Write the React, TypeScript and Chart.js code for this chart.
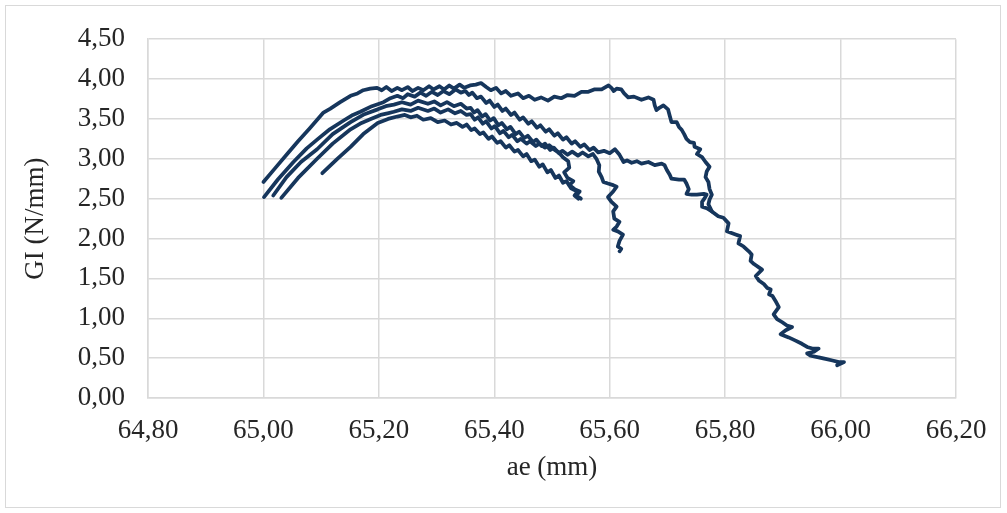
import React, { useEffect, useRef } from "react";
import { Chart, registerables } from "chart.js";

Chart.register(...registerables);

const xMin = 64.8;
const xMax = 66.2;
const xStep = 0.2;
const yMin = 0;
const yMax = 4.5;
const yStep = 0.5;
const xTitle = "ae (mm)";
const yTitle = "GI (N/mm)";

// Five specimens: [ae (mm), GI (N/mm)]
const specimenA: [number, number][] = [
  [65.0, 2.71], [65.02, 2.88], [65.04, 3.05], [65.06, 3.22], [65.08, 3.38], [65.104, 3.58],
  [65.116, 3.63], [65.133, 3.71], [65.151, 3.79], [65.163, 3.82], [65.173, 3.86], [65.185, 3.88],
  [65.197, 3.89], [65.205, 3.86], [65.213, 3.9], [65.222, 3.85], [65.232, 3.89], [65.24, 3.86],
  [65.25, 3.9], [65.258, 3.85], [65.268, 3.89], [65.277, 3.86], [65.287, 3.91], [65.295, 3.87],
  [65.305, 3.91], [65.313, 3.87], [65.322, 3.92], [65.33, 3.88], [65.34, 3.93], [65.348, 3.89],
  [65.358, 3.92], [65.368, 3.93], [65.377, 3.95], [65.386, 3.9], [65.394, 3.86], [65.403, 3.89],
  [65.412, 3.82], [65.42, 3.85], [65.429, 3.79], [65.441, 3.82], [65.45, 3.76], [65.46, 3.79],
  [65.47, 3.74], [65.481, 3.77], [65.493, 3.73], [65.504, 3.78], [65.516, 3.76], [65.527, 3.8],
  [65.539, 3.79], [65.551, 3.84], [65.563, 3.84], [65.573, 3.87], [65.586, 3.87], [65.598, 3.92],
  [65.603, 3.89], [65.607, 3.85], [65.612, 3.88], [65.62, 3.87], [65.625, 3.82], [65.632, 3.77],
  [65.642, 3.78], [65.655, 3.74], [65.667, 3.77], [65.676, 3.74], [65.678, 3.67], [65.681, 3.61],
  [65.686, 3.64], [65.693, 3.67], [65.701, 3.62], [65.704, 3.54], [65.707, 3.46], [65.716, 3.46],
  [65.72, 3.4], [65.725, 3.36], [65.729, 3.31], [65.733, 3.25], [65.739, 3.21], [65.746, 3.2],
  [65.747, 3.15], [65.757, 3.12], [65.751, 3.06], [65.76, 3.02], [65.766, 2.96], [65.773, 2.9],
  [65.768, 2.84], [65.766, 2.77], [65.771, 2.71], [65.773, 2.62], [65.777, 2.55], [65.773, 2.49],
  [65.771, 2.43], [65.777, 2.34], [65.788, 2.28], [65.797, 2.26], [65.806, 2.19], [65.803, 2.09],
  [65.818, 2.05], [65.826, 2.03], [65.823, 1.94], [65.832, 1.9], [65.841, 1.84], [65.846, 1.8],
  [65.844, 1.72], [65.85, 1.68], [65.864, 1.61], [65.853, 1.53], [65.859, 1.47], [65.867, 1.43],
  [65.873, 1.38], [65.879, 1.36], [65.876, 1.3], [65.882, 1.28], [65.887, 1.22], [65.893, 1.14],
  [65.884, 1.05], [65.89, 0.99], [65.899, 0.95], [65.907, 0.91], [65.916, 0.89], [65.905, 0.85],
  [65.896, 0.8], [65.91, 0.76], [65.922, 0.72], [65.933, 0.68], [65.942, 0.64], [65.951, 0.62],
  [65.962, 0.62], [65.954, 0.58], [65.942, 0.56], [65.948, 0.53], [65.962, 0.51], [65.974, 0.49],
  [65.986, 0.47], [65.997, 0.45], [66.006, 0.45], [65.994, 0.41],
];

const specimenB: [number, number][] = [
  [65.001, 2.52], [65.025, 2.74], [65.052, 2.96], [65.075, 3.13], [65.093, 3.24], [65.115, 3.37],
  [65.139, 3.48], [65.155, 3.55], [65.168, 3.59], [65.188, 3.66], [65.208, 3.71], [65.22, 3.76],
  [65.232, 3.79], [65.242, 3.76], [65.25, 3.81], [65.262, 3.78], [65.272, 3.83], [65.282, 3.79],
  [65.292, 3.84], [65.302, 3.8], [65.312, 3.85], [65.322, 3.81], [65.333, 3.87], [65.342, 3.83],
  [65.35, 3.85], [65.356, 3.8], [65.362, 3.83], [65.37, 3.76], [65.377, 3.78], [65.386, 3.7],
  [65.392, 3.73], [65.4, 3.65], [65.406, 3.68], [65.414, 3.6], [65.42, 3.63], [65.429, 3.55],
  [65.435, 3.58], [65.444, 3.49], [65.45, 3.52], [65.459, 3.44], [65.465, 3.47], [65.474, 3.39],
  [65.48, 3.42], [65.489, 3.34], [65.495, 3.37], [65.504, 3.29], [65.51, 3.32], [65.519, 3.24],
  [65.525, 3.27], [65.534, 3.19], [65.54, 3.22], [65.549, 3.15], [65.556, 3.18], [65.565, 3.11],
  [65.572, 3.14], [65.58, 3.08], [65.59, 3.1], [65.6, 3.07], [65.609, 3.12], [65.617, 3.05],
  [65.624, 2.96], [65.63, 2.98], [65.638, 2.95], [65.647, 2.97], [65.655, 2.94], [65.667, 2.96],
  [65.678, 2.92], [65.69, 2.94], [65.695, 2.92], [65.699, 2.86], [65.704, 2.8], [65.707, 2.75],
  [65.72, 2.74], [65.729, 2.74], [65.733, 2.69], [65.737, 2.62], [65.733, 2.56], [65.742, 2.55],
  [65.751, 2.55], [65.763, 2.56], [65.768, 2.55], [65.764, 2.5], [65.76, 2.46], [65.76, 2.4],
  [65.768, 2.38], [65.777, 2.34],
];

const specimenC: [number, number][] = [
  [65.017, 2.54], [65.04, 2.77], [65.065, 2.96], [65.093, 3.12], [65.12, 3.31], [65.151, 3.46],
  [65.175, 3.56], [65.198, 3.62], [65.212, 3.66], [65.226, 3.68], [65.24, 3.71], [65.255, 3.68],
  [65.268, 3.73], [65.285, 3.69], [65.296, 3.72], [65.307, 3.67], [65.318, 3.71], [65.33, 3.66],
  [65.342, 3.69], [65.352, 3.63], [65.359, 3.64], [65.365, 3.58], [65.371, 3.61], [65.379, 3.53],
  [65.385, 3.56], [65.393, 3.48], [65.399, 3.51], [65.407, 3.42], [65.413, 3.45], [65.422, 3.37],
  [65.428, 3.4], [65.437, 3.31], [65.443, 3.34], [65.452, 3.26], [65.458, 3.29], [65.467, 3.21],
  [65.473, 3.24], [65.482, 3.16], [65.488, 3.19], [65.497, 3.11], [65.503, 3.14], [65.512, 3.07],
  [65.518, 3.1], [65.527, 3.05], [65.535, 3.09], [65.545, 3.04], [65.553, 3.08], [65.563, 3.03],
  [65.571, 3.06], [65.577, 3.0], [65.582, 2.92], [65.581, 2.84], [65.586, 2.77], [65.589, 2.71],
  [65.597, 2.69], [65.606, 2.67], [65.612, 2.65], [65.606, 2.59], [65.597, 2.52], [65.603, 2.46],
  [65.612, 2.4], [65.606, 2.34], [65.608, 2.25], [65.617, 2.21], [65.612, 2.15], [65.606, 2.11],
  [65.614, 2.09], [65.623, 2.05], [65.617, 1.97], [65.614, 1.9], [65.62, 1.87], [65.617, 1.84],
];

const specimenD: [number, number][] = [
  [65.031, 2.51], [65.06, 2.76], [65.093, 3.0], [65.12, 3.19], [65.151, 3.37], [65.17, 3.45],
  [65.186, 3.5], [65.203, 3.55], [65.215, 3.57], [65.226, 3.59], [65.24, 3.62], [65.255, 3.6],
  [65.268, 3.64], [65.285, 3.6], [65.296, 3.63], [65.307, 3.58], [65.32, 3.62], [65.332, 3.57],
  [65.342, 3.6], [65.352, 3.55], [65.359, 3.56], [65.366, 3.49], [65.372, 3.52], [65.38, 3.44],
  [65.386, 3.47], [65.395, 3.38], [65.401, 3.41], [65.41, 3.32], [65.416, 3.35], [65.425, 3.27],
  [65.431, 3.3], [65.44, 3.22], [65.446, 3.25], [65.456, 3.19], [65.462, 3.22], [65.472, 3.16],
  [65.478, 3.19], [65.488, 3.14], [65.495, 3.17], [65.505, 3.11], [65.512, 3.08], [65.519, 3.02],
  [65.528, 2.97], [65.53, 2.89], [65.521, 2.83], [65.527, 2.76], [65.537, 2.72], [65.53, 2.67],
  [65.539, 2.62], [65.548, 2.59], [65.542, 2.54], [65.55, 2.5],
];

const specimenE: [number, number][] = [
  [65.102, 2.82], [65.128, 3.0], [65.151, 3.15], [65.173, 3.31], [65.198, 3.45], [65.216, 3.5],
  [65.232, 3.53], [65.245, 3.55], [65.255, 3.52], [65.266, 3.54], [65.277, 3.49], [65.29, 3.51],
  [65.302, 3.46], [65.314, 3.48], [65.325, 3.43], [65.335, 3.45], [65.345, 3.4], [65.352, 3.43],
  [65.36, 3.36], [65.366, 3.38], [65.375, 3.31], [65.381, 3.33], [65.39, 3.25], [65.396, 3.28],
  [65.405, 3.2], [65.411, 3.22], [65.42, 3.14], [65.426, 3.17], [65.435, 3.09], [65.441, 3.11],
  [65.45, 3.03], [65.456, 3.06], [65.464, 2.97], [65.47, 2.99], [65.478, 2.9], [65.484, 2.93],
  [65.492, 2.83], [65.498, 2.86], [65.506, 2.76], [65.512, 2.79], [65.519, 2.7], [65.525, 2.72],
  [65.533, 2.63], [65.544, 2.59], [65.539, 2.54], [65.546, 2.5],
];

const specimens = [specimenA, specimenB, specimenC, specimenD, specimenE];
const lineColor = "#16365c";
const gridColor = "#d9d9d9";
const fontFamily = "'Liberation Serif', 'Times New Roman', serif";

const fmt = (v: number | string) => Number(v).toFixed(2).replace(".", ",");

export default function App() {
  const ref = useRef<HTMLCanvasElement>(null);

  useEffect(() => {
    if (!ref.current) return;
    const chart = new Chart(ref.current, {
      type: "scatter",
      data: {
        datasets: specimens.map((s) => ({
          data: s.map(([x, y]) => ({ x, y })),
          showLine: true,
          borderColor: lineColor,
          backgroundColor: lineColor,
          borderWidth: 3.75,
          pointRadius: 0,
          pointHoverRadius: 0,
          tension: 0,
          borderJoinStyle: "round" as const,
          borderCapStyle: "round" as const,
        })),
      },
      options: {
        responsive: false,
        animation: false,
        devicePixelRatio: 1,
        layout: { padding: { left: 0, right: 51, top: 36, bottom: 0 } },
        plugins: {
          legend: { display: false },
          tooltip: { enabled: false },
          title: { display: false },
        },
        scales: {
          x: {
            type: "linear",
            min: xMin,
            max: xMax,
            afterFit: (s: any) => {
              s.height = 115;
            },
            ticks: {
              stepSize: xStep,
              padding: 17,
              color: "#262626",
              font: { family: fontFamily, size: 27 },
              callback: (v: any) => fmt(v),
            },
            grid: { color: gridColor, lineWidth: 1.5, drawTicks: false },
            border: { color: gridColor, width: 1.5 },
            title: {
              display: true,
              text: xTitle,
              color: "#262626",
              font: { family: fontFamily, size: 27 },
              padding: { top: 0, bottom: 29 },
            },
          },
          y: {
            type: "linear",
            min: yMin,
            max: yMax,
            afterFit: (s: any) => {
              s.width = 148;
            },
            ticks: {
              stepSize: yStep,
              padding: 23,
              color: "#262626",
              font: { family: fontFamily, size: 27 },
              callback: (v: any) => fmt(v),
            },
            grid: { color: gridColor, lineWidth: 1.5, drawTicks: false },
            border: { color: gridColor, width: 1.5 },
            title: {
              display: true,
              text: yTitle,
              color: "#262626",
              font: { family: fontFamily, size: 27 },
              padding: { top: 20, bottom: 0 },
            },
          },
        },
      },
    });
    return () => chart.destroy();
  }, []);

  return (
    <div style={{ position: "absolute", left: 0, top: 0, width: 1007, height: 513, background: "#fff" }}>
      <canvas ref={ref} width={1007} height={513} style={{ position: "absolute", left: 0, top: 0 }} />
      <div
        style={{
          position: "absolute",
          left: 5,
          top: 5,
          width: 996,
          height: 503,
          boxSizing: "border-box",
          border: "1px solid #d9d9d9",
          pointerEvents: "none",
        }}
      />
    </div>
  );
}
